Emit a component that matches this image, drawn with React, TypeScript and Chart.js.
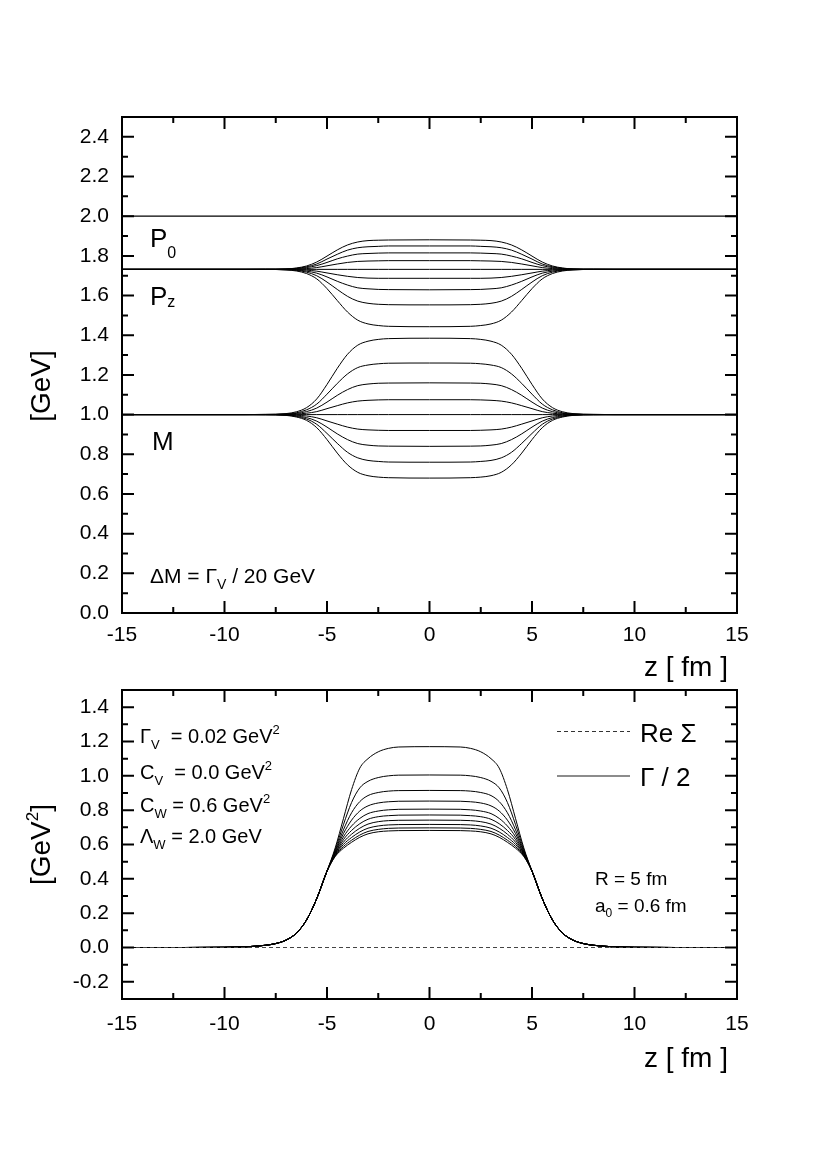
import { useEffect, useRef } from "react";
import { Chart, registerables } from "chart.js";

Chart.register(...registerables);

const FONT = "'Liberation Sans', Arial, Helvetica, sans-serif";

// ---------- axis ticks ----------
const xMajorTicks = [-15, -10, -5, 0, 5, 10, 15];
const xMinorTicks = [-12.5, -7.5, -2.5, 2.5, 7.5, 12.5];
const yTopMajor = [0, 0.2, 0.4, 0.6, 0.8, 1.0, 1.2, 1.4, 1.6, 1.8, 2.0, 2.2, 2.4];
const yTopMinor = [0.1, 0.3, 0.5, 0.7, 0.9, 1.1, 1.3, 1.5, 1.7, 1.9, 2.1, 2.3];
const yBotMajor = [-0.2, 0.0, 0.2, 0.4, 0.6, 0.8, 1.0, 1.2, 1.4];
const yBotMinor = [-0.1, 0.1, 0.3, 0.5, 0.7, 0.9, 1.1, 1.3];

// ---------- top panel data (symmetric in z; half curves for z >= 0) ----------
const zTop = [0, 2, 2.5, 3, 3.5, 4, 4.5, 5, 5.5, 6, 6.5, 7, 8, 9, 15];
const p0Z = [-15, 15];
const p0Values = [2.0, 2.0];

const m1 = [1.385, 1.383, 1.379, 1.37, 1.35, 1.304, 1.233, 1.152, 1.079, 1.035, 1.014, 1.005, 1.001, 1.0, 1.0];
const m2 = [1.26, 1.259, 1.256, 1.25, 1.237, 1.205, 1.157, 1.103, 1.053, 1.024, 1.009, 1.003, 1.001, 1.0, 1.0];
const m3 = [1.16, 1.159, 1.158, 1.154, 1.146, 1.126, 1.097, 1.063, 1.033, 1.015, 1.006, 1.002, 1.0, 1.0, 1.0];
const m4 = [1.075, 1.075, 1.074, 1.072, 1.068, 1.059, 1.045, 1.03, 1.015, 1.007, 1.003, 1.001, 1.0, 1.0, 1.0];
const m5 = [1.0, 1.0, 1.0, 1.0, 1.0, 1.0, 1.0, 1.0, 1.0, 1.0, 1.0, 1.0, 1.0, 1.0, 1.0];
const m6 = [0.92, 0.92, 0.921, 0.923, 0.927, 0.937, 0.952, 0.968, 0.984, 0.993, 0.997, 0.999, 1.0, 1.0, 1.0];
const m7 = [0.84, 0.841, 0.842, 0.846, 0.854, 0.874, 0.903, 0.937, 0.967, 0.985, 0.994, 0.998, 1.0, 1.0, 1.0];
const m8 = [0.76, 0.761, 0.764, 0.769, 0.782, 0.81, 0.855, 0.905, 0.951, 0.978, 0.991, 0.997, 1.0, 1.0, 1.0];
const m9 = [0.68, 0.682, 0.685, 0.692, 0.709, 0.747, 0.806, 0.874, 0.934, 0.971, 0.988, 0.996, 0.999, 1.0, 1.0];

const pz1 = [1.443, 1.445, 1.449, 1.457, 1.476, 1.517, 1.575, 1.635, 1.684, 1.711, 1.724, 1.729, 1.732, 1.732, 1.732];
const pz2 = [1.553, 1.554, 1.556, 1.561, 1.572, 1.596, 1.631, 1.668, 1.7, 1.718, 1.727, 1.73, 1.732, 1.732, 1.732];
const pz3 = [1.629, 1.63, 1.631, 1.634, 1.639, 1.653, 1.672, 1.694, 1.713, 1.723, 1.729, 1.731, 1.732, 1.732, 1.732];
const pz4 = [1.687, 1.687, 1.687, 1.688, 1.691, 1.697, 1.705, 1.714, 1.723, 1.728, 1.73, 1.732, 1.732, 1.732, 1.732];
const pz5 = [1.732, 1.732, 1.732, 1.732, 1.732, 1.732, 1.732, 1.732, 1.732, 1.732, 1.732, 1.732, 1.732, 1.732, 1.732];
const pz6 = [1.776, 1.776, 1.775, 1.774, 1.772, 1.767, 1.759, 1.75, 1.741, 1.736, 1.734, 1.733, 1.732, 1.732, 1.732];
const pz7 = [1.815, 1.815, 1.814, 1.812, 1.809, 1.799, 1.785, 1.767, 1.751, 1.741, 1.736, 1.733, 1.732, 1.732, 1.732];
const pz8 = [1.85, 1.85, 1.848, 1.846, 1.841, 1.829, 1.808, 1.784, 1.759, 1.745, 1.737, 1.734, 1.732, 1.732, 1.732];
const pz9 = [1.881, 1.88, 1.879, 1.877, 1.87, 1.855, 1.83, 1.799, 1.769, 1.749, 1.739, 1.734, 1.733, 1.732, 1.732];

const massCurves = [m1, m2, m3, m4, m5, m6, m7, m8, m9];
const pzCurves = [pz1, pz2, pz3, pz4, pz5, pz6, pz7, pz8, pz9];

// ---------- bottom panel data ----------
const zBot = [0, 1.5, 2, 2.5, 3, 3.4, 3.8, 4.2, 4.6, 5, 5.5, 6, 6.5, 7, 7.5, 8, 9, 10, 12, 15];
const g1 = [1.17, 1.168, 1.16, 1.14, 1.1, 1.045, 0.92, 0.75, 0.58, 0.445, 0.285, 0.16, 0.083, 0.043, 0.023, 0.013, 0.004, 0.001, 0, 0];
const g2 = [1.005, 1.004, 1.0, 0.99, 0.968, 0.93, 0.845, 0.715, 0.57, 0.445, 0.285, 0.16, 0.083, 0.043, 0.023, 0.013, 0.004, 0.001, 0, 0];
const g3 = [0.915, 0.914, 0.911, 0.903, 0.885, 0.85, 0.785, 0.685, 0.562, 0.445, 0.285, 0.16, 0.083, 0.043, 0.023, 0.013, 0.004, 0.001, 0, 0];
const g4 = [0.853, 0.852, 0.849, 0.842, 0.825, 0.795, 0.742, 0.663, 0.556, 0.445, 0.285, 0.16, 0.083, 0.043, 0.023, 0.013, 0.004, 0.001, 0, 0];
const g5 = [0.806, 0.805, 0.802, 0.795, 0.78, 0.752, 0.708, 0.644, 0.55, 0.445, 0.285, 0.16, 0.083, 0.043, 0.023, 0.013, 0.004, 0.001, 0, 0];
const g6 = [0.772, 0.771, 0.768, 0.762, 0.747, 0.721, 0.682, 0.628, 0.545, 0.445, 0.285, 0.16, 0.083, 0.043, 0.023, 0.013, 0.004, 0.001, 0, 0];
const g7 = [0.742, 0.741, 0.739, 0.733, 0.719, 0.695, 0.66, 0.613, 0.54, 0.445, 0.285, 0.16, 0.083, 0.043, 0.023, 0.013, 0.004, 0.001, 0, 0];
const g8 = [0.717, 0.716, 0.714, 0.708, 0.695, 0.673, 0.641, 0.6, 0.536, 0.445, 0.285, 0.16, 0.083, 0.043, 0.023, 0.013, 0.004, 0.001, 0, 0];
const g9 = [0.697, 0.696, 0.694, 0.688, 0.676, 0.655, 0.625, 0.588, 0.533, 0.445, 0.285, 0.16, 0.083, 0.043, 0.023, 0.013, 0.004, 0.001, 0, 0];
const g10 = [0.682, 0.681, 0.679, 0.674, 0.662, 0.642, 0.613, 0.578, 0.53, 0.445, 0.285, 0.16, 0.083, 0.043, 0.023, 0.013, 0.004, 0.001, 0, 0];
const widthCurves = [g1, g2, g3, g4, g5, g6, g7, g8, g9, g10];

const reSigmaZ = [-15, 15];
const reSigmaValues = [0, 0];

// ---------- helpers ----------
function mirror(zHalf: number[], vHalf: number[]) {
  const pts: { x: number; y: number }[] = [];
  for (let i = zHalf.length - 1; i >= 1; i--) pts.push({ x: -zHalf[i], y: vHalf[i] });
  for (let i = 0; i < zHalf.length; i++) pts.push({ x: zHalf[i], y: vHalf[i] });
  return pts;
}
function pairs(z: number[], v: number[]) {
  return z.map((x, i) => ({ x, y: v[i] }));
}

type Run = { t: string; s: number; dy?: number };
function drawRuns(ctx: CanvasRenderingContext2D, x: number, y: number, runs: Run[], align: "left" | "right" | "center" = "left") {
  let total = 0;
  for (const r of runs) {
    ctx.font = `${r.s}px ${FONT}`;
    total += ctx.measureText(r.t).width;
  }
  let cx = align === "left" ? x : align === "right" ? x - total : x - total / 2;
  ctx.textAlign = "left";
  ctx.textBaseline = "alphabetic";
  ctx.fillStyle = "#000";
  for (const r of runs) {
    ctx.font = `${r.s}px ${FONT}`;
    ctx.fillText(r.t, cx, y + (r.dy || 0));
    cx += ctx.measureText(r.t).width;
  }
}

function frameTicksPlugin(yMajor: number[], yMinor: number[]) {
  return {
    id: "frameTicks",
    afterDraw(chart: any) {
      const { ctx, chartArea: a, scales } = chart;
      const xs = scales.x;
      const ys = scales.y;
      ctx.save();
      ctx.strokeStyle = "#000";
      ctx.lineWidth = 2;
      const big = 12;
      const small = 6;
      ctx.beginPath();
      for (const v of xMajorTicks) {
        const p = xs.getPixelForValue(v);
        ctx.moveTo(p, a.bottom); ctx.lineTo(p, a.bottom - big);
        ctx.moveTo(p, a.top); ctx.lineTo(p, a.top + big);
      }
      for (const v of xMinorTicks) {
        const p = xs.getPixelForValue(v);
        ctx.moveTo(p, a.bottom); ctx.lineTo(p, a.bottom - small);
        ctx.moveTo(p, a.top); ctx.lineTo(p, a.top + small);
      }
      for (const v of yMajor) {
        const p = ys.getPixelForValue(v);
        ctx.moveTo(a.left, p); ctx.lineTo(a.left + big, p);
        ctx.moveTo(a.right, p); ctx.lineTo(a.right - big, p);
      }
      for (const v of yMinor) {
        const p = ys.getPixelForValue(v);
        ctx.moveTo(a.left, p); ctx.lineTo(a.left + small, p);
        ctx.moveTo(a.right, p); ctx.lineTo(a.right - small, p);
      }
      ctx.stroke();
      ctx.lineWidth = 2;
      ctx.strokeRect(a.left, a.top, a.right - a.left, a.bottom - a.top);
      ctx.restore();
    },
  };
}

function lineDs(data: { x: number; y: number }[], extra: any = {}) {
  return {
    data,
    borderColor: "#000",
    borderWidth: 1,
    pointRadius: 0,
    fill: false,
    cubicInterpolationMode: "monotone",
    ...extra,
  };
}

function scalesFor(yMin: number, yMax: number, yTicks: number[], xPad: number) {
  return {
    x: {
      type: "linear",
      min: -15,
      max: 15,
      afterBuildTicks: (s: any) => { s.ticks = xMajorTicks.map((value) => ({ value })); },
      afterFit: (s: any) => { s.height = 60; },
      grid: { display: false, drawTicks: false },
      border: { display: false },
      ticks: {
        padding: xPad,
        color: "#000",
        font: { size: 21, family: FONT },
        maxRotation: 0,
        autoSkip: false,
        callback: (v: any) => String(v),
      },
    },
    y: {
      type: "linear",
      min: yMin,
      max: yMax,
      afterBuildTicks: (s: any) => { s.ticks = yTicks.map((value) => ({ value })); },
      afterFit: (s: any) => { s.width = 70; },
      grid: { display: false, drawTicks: false },
      border: { display: false },
      ticks: {
        padding: 13,
        color: "#000",
        font: { size: 21, family: FONT },
        autoSkip: false,
        callback: (v: any) => Number(v).toFixed(1),
      },
    },
  };
}

const topText = {
  id: "topText",
  afterDraw(chart: any) {
    const { ctx, chartArea: a } = chart;
    ctx.save();
    drawRuns(ctx, a.left + 28, a.top + 130, [{ t: "P", s: 26 }, { t: "0", s: 16, dy: 11 }]);
    drawRuns(ctx, a.left + 28, a.top + 188, [{ t: "P", s: 26 }, { t: "z", s: 16, dy: 2 }]);
    drawRuns(ctx, a.left + 30, a.top + 333, [{ t: "M", s: 26 }]);
    drawRuns(ctx, a.left + 28, a.bottom - 30, [
      { t: "\u0394M = \u0393", s: 21 },
      { t: "V", s: 14, dy: 6 },
      { t: " / 20 GeV", s: 21 },
    ]);
    drawRuns(ctx, a.right - 9, a.bottom + 63, [{ t: "z [ fm ]", s: 28 }], "right");
    ctx.translate(40, 386);
    ctx.rotate(-Math.PI / 2);
    drawRuns(ctx, 0, 10, [{ t: "[GeV]", s: 28 }], "center");
    ctx.restore();
  },
};

const botText = {
  id: "botText",
  afterDraw(chart: any) {
    const { ctx, chartArea: a } = chart;
    ctx.save();
    const L = a.left + 18;
    drawRuns(ctx, L, a.top + 53, [
      { t: "\u0393", s: 20 }, { t: "V", s: 13, dy: 6 }, { t: "  = 0.02 GeV", s: 20 }, { t: "2", s: 13, dy: -9 },
    ]);
    drawRuns(ctx, L, a.top + 89, [
      { t: "C", s: 20 }, { t: "V", s: 13, dy: 6 }, { t: "  = 0.0 GeV", s: 20 }, { t: "2", s: 13, dy: -9 },
    ]);
    drawRuns(ctx, L, a.top + 122, [
      { t: "C", s: 20 }, { t: "W", s: 13, dy: 6 }, { t: " = 0.6 GeV", s: 20 }, { t: "2", s: 13, dy: -9 },
    ]);
    drawRuns(ctx, L, a.top + 153, [
      { t: "\u039B", s: 20 }, { t: "W", s: 13, dy: 6 }, { t: " = 2.0 GeV", s: 20 },
    ]);
    // legend
    ctx.strokeStyle = "#333";
    ctx.lineWidth = 1;
    ctx.setLineDash([4, 3]);
    ctx.beginPath();
    ctx.moveTo(a.left + 435, a.top + 41.5);
    ctx.lineTo(a.left + 508, a.top + 41.5);
    ctx.stroke();
    ctx.setLineDash([]);
    ctx.strokeStyle = "#666";
    ctx.lineWidth = 1.4;
    ctx.beginPath();
    ctx.moveTo(a.left + 435, a.top + 86);
    ctx.lineTo(a.left + 508, a.top + 86);
    ctx.stroke();
    drawRuns(ctx, a.left + 518, a.top + 52, [{ t: "Re \u03A3", s: 26 }]);
    drawRuns(ctx, a.left + 518, a.top + 96, [{ t: "\u0393 / 2", s: 26 }]);
    drawRuns(ctx, a.left + 473, a.top + 195, [{ t: "R = 5 fm", s: 19 }]);
    drawRuns(ctx, a.left + 473, a.top + 222, [{ t: "a", s: 19 }, { t: "0", s: 12, dy: 5 }, { t: " = 0.6 fm", s: 19 }]);
    drawRuns(ctx, a.right - 9, a.bottom + 68, [{ t: "z [ fm ]", s: 28 }], "right");
    ctx.translate(40, (a.top + a.bottom) / 2);
    ctx.rotate(-Math.PI / 2);
    drawRuns(ctx, 0, 10, [{ t: "[GeV", s: 28 }, { t: "2", s: 17, dy: -12 }, { t: "]", s: 28 }], "center");
    ctx.restore();
  },
};

export default function App() {
  const topRef = useRef<HTMLCanvasElement>(null);
  const botRef = useRef<HTMLCanvasElement>(null);

  useEffect(() => {
    const topDatasets: any[] = [lineDs(pairs(p0Z, p0Values), { borderWidth: 1.3 })];
    pzCurves.forEach((c) => topDatasets.push(lineDs(mirror(zTop, c))));
    massCurves.forEach((c) => topDatasets.push(lineDs(mirror(zTop, c))));

    const botDatasets: any[] = [
      lineDs(pairs(reSigmaZ, reSigmaValues), { borderDash: [4, 3], borderColor: "#444", cubicInterpolationMode: "default" }),
    ];
    widthCurves.forEach((c) => botDatasets.push(lineDs(mirror(zBot, c))));

    const top = new Chart(topRef.current as HTMLCanvasElement, {
      type: "line",
      data: { datasets: topDatasets },
      options: {
        responsive: false,
        animation: false,
        layout: { padding: { left: 52, right: 80, top: 117, bottom: 27 } },
        plugins: { legend: { display: false }, tooltip: { enabled: false } },
        scales: scalesFor(0, 2.5, yTopMajor, 10) as any,
      },
      plugins: [frameTicksPlugin(yTopMajor, yTopMinor), topText],
    } as any);

    const bot = new Chart(botRef.current as HTMLCanvasElement, {
      type: "line",
      data: { datasets: botDatasets },
      options: {
        responsive: false,
        animation: false,
        layout: { padding: { left: 52, right: 80, top: 30, bottom: 117 } },
        plugins: { legend: { display: false }, tooltip: { enabled: false } },
        scales: scalesFor(-0.3, 1.5, yBotMajor, 13) as any,
      },
      plugins: [frameTicksPlugin(yBotMajor, yBotMinor), botText],
    } as any);

    return () => {
      top.destroy();
      bot.destroy();
    };
  }, []);

  return (
    <div style={{ position: "absolute", left: 0, top: 0, width: 817, height: 1176, background: "#fff" }}>
      <canvas ref={topRef} width={817} height={700} style={{ position: "absolute", left: 0, top: 0 }} />
      <canvas ref={botRef} width={817} height={516} style={{ position: "absolute", left: 0, top: 660 }} />
    </div>
  );
}
